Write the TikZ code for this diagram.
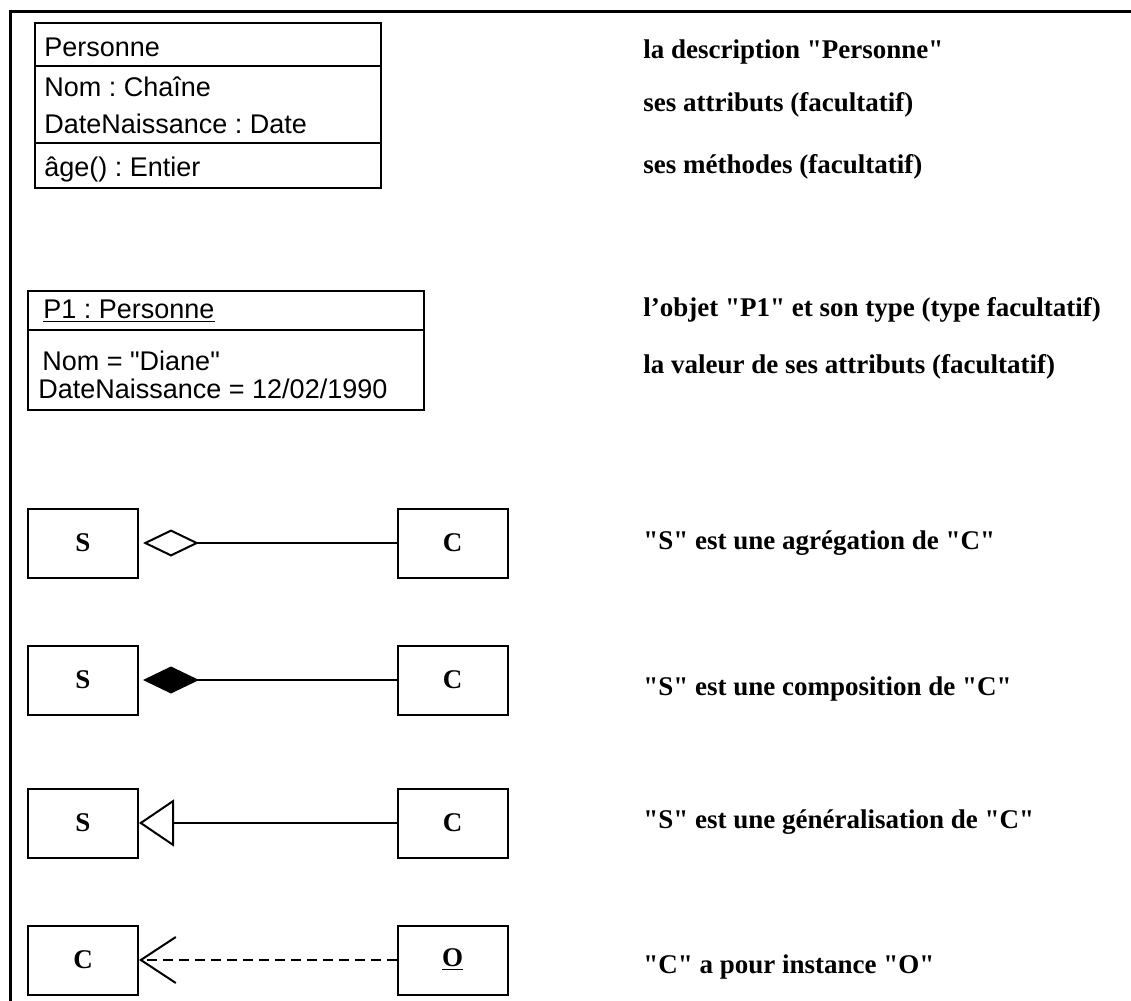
\documentclass[tikz,border=0pt]{standalone}
\usepackage{fontspec}
\setmainfont{Liberation Serif}[Ligatures=TeXOff]
\newfontfamily\umlsans{Liberation Sans}
\usetikzlibrary{arrows.meta}
\frenchspacing

\begin{document}
\begin{tikzpicture}[x=0.5pt,y=-0.5pt]
\tikzset{cadre/.style={line width=1.5pt},
  compart/.style={draw, line width=1pt, minimum width=173pt, inner sep=0pt, outer sep=0pt, anchor=north west},
  boite/.style={draw, line width=1pt, minimum width=55pt, minimum height=34.5pt, inner sep=0pt, font=\fontsize{13.5}{16}\selectfont\bfseries},
  attr/.style={anchor=base west, inner sep=0pt, font=\umlsans\fontsize{13.5}{16}\selectfont},
  legende/.style={anchor=base west, inner sep=0pt, font=\fontsize{13.5}{16}\selectfont\bfseries},
  lien/.style={line width=1pt}}
\useasboundingbox (0,0) rectangle (1131,1001);
\draw[cadre] (10,1001) -- (10,11.5) -- (1131,11.5);
\node[compart, minimum height=21.5pt] (cnom) at (35,23) {};
\node[compart, minimum height=38.5pt, anchor=north] (cattr) at (cnom.south) {};
\node[compart, minimum height=22.5pt, anchor=north] (cmeth) at (cattr.south) {};
\node[attr] (tnom) at (44,56) {Personne};
\node[attr] (tattr1) at (44,97) {Nom : Chaîne};
\node[attr] (tattr2) at (44,133) {DateNaissance : Date};
\node[attr] (tmeth) at (44,176) {âge() : Entier};
\node[compart, minimum width=198pt, minimum height=19.5pt] (onom) at (28,291) {};
\node[compart, minimum width=198pt, minimum height=40pt, anchor=north] (oval) at (onom.south) {};
\node[attr] (tobj) at (43,318) {\underline{P1 : Personne}};
\node[attr] (tval1) at (42,370) {Nom = "Diane"};
\node[attr] (tval2) at (38,398) {DateNaissance = 12/02/1990};
\node[boite] (s1) at (83,543) {S};
\node[boite] (c1) at (452.5,543) {C};
\node[boite] (s2) at (83,680) {S};
\node[boite] (c2) at (452.5,680) {C};
\node[boite] (s3) at (83,823) {S};
\node[boite] (c3) at (452.5,823) {C};
\node[boite] (c4) at (83,960) {C};
\node[boite] (o4) at (452.5,960) {\underline{O}};
\draw[lien, -{Diamond[open, length=28pt, width=13.5pt]}, shorten >=2pt] (c1) -- (s1);
\draw[lien, -{Diamond[length=28pt, width=13.5pt]}, shorten >=2pt] (c2) -- (s2);
\draw[lien, -{Triangle[open, length=17.5pt, width=23.5pt]}] (c3) -- (s3);
\draw[lien, dash pattern=on 5pt off 3pt, -{Straight Barb[length=17.5pt, width=23pt]}] (o4) -- (c4);
\node[legende] (l1) at (643,58) {la description "Personne"};
\node[legende] (l2) at (643,112) {ses attributs (facultatif)};
\node[legende] (l3) at (643,173) {ses méthodes (facultatif)};
\node[legende] (l4) at (643,316) {l’objet "P1" et son type (type facultatif)};
\node[legende] (l5) at (643,373) {la valeur de ses attributs (facultatif)};
\node[legende] (l6) at (643,549) {"S" est une agrégation de "C"};
\node[legende] (l7) at (643,695) {"S" est une composition de "C"};
\node[legende] (l8) at (643,828) {"S" est une généralisation de "C"};
\node[legende] (l9) at (643,973) {"C" a pour instance "O"};
\end{tikzpicture}
\end{document}
